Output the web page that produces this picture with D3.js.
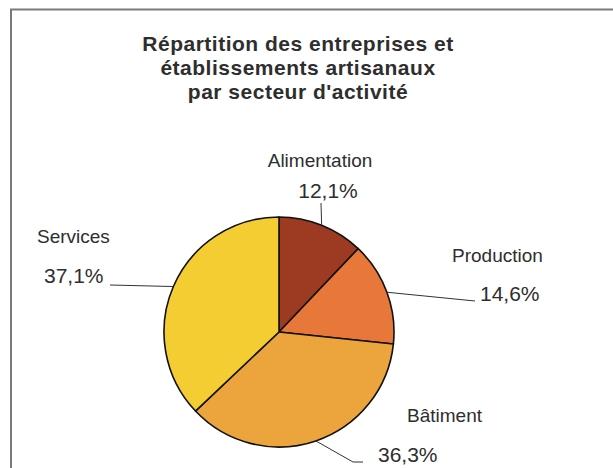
<!DOCTYPE html>
<html>
<head>
<meta charset="utf-8">
<script src="https://cdn.jsdelivr.net/npm/d3@7"></script>
<style>
    body { margin: 0; background: #fff; }
    text { font-family: "Liberation Sans", Arial, sans-serif; fill: #2e2e2e; }
</style>
</head>
<body>
<div id="chart"></div>
<script>
const titleLines = ["Répartition des entreprises et", "établissements artisanaux", "par secteur d'activité"];
const sectors = ["Alimentation", "Production", "Bâtiment", "Services"];
const shares = [12.1, 14.6, 36.3, 37.1];
const shareLabels = ["12,1%", "14,6%", "36,3%", "37,1%"];
const colors = ["#9c3a22", "#e8783a", "#eca43c", "#f3cd32"];

const width = 613, height = 468;
const cx = 279, cy = 332, radius = 115;

// label layout, relative to pie centre: line end (+ optional elbow), name and value anchors
const layout = [
    { line: [[42, -129]], name: [41, -165, "middle"], value: [49, -134, "middle"] },
    { line: [[196, -31]], name: [173, -70, "start"], value: [201, -31, "start"] },
    { line: [[74, 130], [84, 130]], name: [128, 90, "start"], value: [99, 130, "start"] },
    { line: [[-169, -47]], name: [-242, -89, "start"], value: [-235, -49, "start"] }
];

const data = sectors.map((s, i) => ({ name: s, value: shares[i], label: shareLabels[i], color: colors[i], lay: layout[i] }));

const svg = d3.select("#chart")
    .append("svg")
    .attr("width", width)
    .attr("height", height);

// open frame (top and left edges only)
svg.append("path")
    .attr("d", `M11,${height} L11,9.5 L${width},9.5`)
    .attr("fill", "none")
    .attr("stroke", "#7a7a7a")
    .attr("stroke-width", 2);

svg.append("g")
    .selectAll("text")
    .data(titleLines)
    .join("text")
    .attr("x", 298)
    .attr("y", (d, i) => 51 + i * 24)
    .attr("text-anchor", "middle")
    .attr("font-size", 21)
    .attr("font-weight", "bold")
    .attr("letter-spacing", 0.5)
    .text(d => d);

const pie = d3.pie().value(d => d.value).sort(null);
const arc = d3.arc().innerRadius(0).outerRadius(radius);
const edge = d3.arc().innerRadius(radius).outerRadius(radius);

const g = svg.append("g")
    .attr("transform", `translate(${cx},${cy})`);

const arcs = pie(data);

g.selectAll("path.slice")
    .data(arcs)
    .join("path")
    .attr("class", "slice")
    .attr("d", arc)
    .attr("fill", d => d.data.color)
    .attr("stroke", "#111")
    .attr("stroke-width", 1.6)
    .attr("stroke-linejoin", "round");

g.selectAll("path.leader")
    .data(arcs)
    .join("path")
    .attr("class", "leader")
    .attr("d", d => d3.line()([edge.centroid(d), ...d.data.lay.line]))
    .attr("fill", "none")
    .attr("stroke", "#333")
    .attr("stroke-width", 1);

g.selectAll("text.name")
    .data(data)
    .join("text")
    .attr("class", "name")
    .attr("x", d => d.lay.name[0])
    .attr("y", d => d.lay.name[1])
    .attr("text-anchor", d => d.lay.name[2])
    .attr("font-size", 19)
    .text(d => d.name);

g.selectAll("text.value")
    .data(data)
    .join("text")
    .attr("class", "value")
    .attr("x", d => d.lay.value[0])
    .attr("y", d => d.lay.value[1])
    .attr("text-anchor", d => d.lay.value[2])
    .attr("font-size", 21)
    .text(d => d.label);
</script>
</body>
</html>
